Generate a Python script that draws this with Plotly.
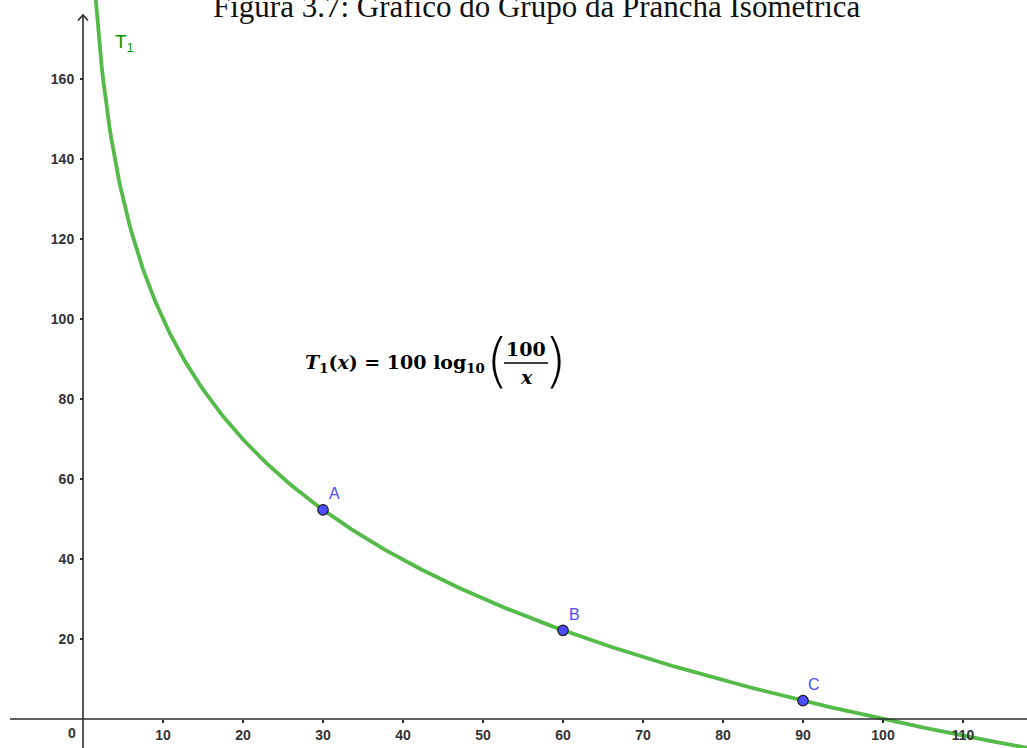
import numpy as np
import plotly.graph_objects as go

# ---- data ----
title_text = "Figura 3.7: Gráfico do Grupo da Prancha Isométrica"
x_ticks = [10, 20, 30, 40, 50, 60, 70, 80, 90, 100, 110]
y_ticks = [20, 40, 60, 80, 100, 120, 140, 160]
point_names = ["A", "B", "C"]
point_x = [30, 60, 90]
point_y = [52.29, 22.18, 4.58]
curve_label = "T<sub>1</sub>"

# function shown in the chart: T1(x) = 100 log10(100/x)
curve_x = np.linspace(1.55, 118.5, 600)
curve_y = 100 * np.log10(100 / curve_x)

W, H = 1027, 748
X0_PX, Y0_PX = 83, 719          # pixel position of origin
PX_PER_X, PX_PER_Y = 8.0, 4.0
LEFT = 10
x_range = [(LEFT - X0_PX) / PX_PER_X, (W - X0_PX) / PX_PER_X]
y_range = [(Y0_PX - H) / PX_PER_Y, Y0_PX / PX_PER_Y]

def dx(px):
    return (px - X0_PX) / PX_PER_X

def dy(py):
    return (Y0_PX - py) / PX_PER_Y

GREEN = "rgb(84,186,72)"
LABEL_GREEN = "rgb(0,153,0)"
BLUE = "rgb(77,77,255)"
AXIS = "#2b2b2b"
TICKFONT = dict(family="Liberation Sans, Arial, sans-serif", size=14, color="#333333")

fig = go.Figure()

fig.add_trace(go.Scatter(x=curve_x, y=curve_y, mode="lines",
                         line=dict(color=GREEN, width=3.8), hoverinfo="skip",
                         showlegend=False))
fig.add_trace(go.Scatter(x=point_x, y=point_y, mode="markers",
                         marker=dict(color=BLUE, size=10.5,
                                     line=dict(color="#1a1a1a", width=1.2)),
                         showlegend=False))

shapes = [
    dict(type="line", xref="x", yref="y", x0=x_range[0], x1=x_range[1], y0=0, y1=0,
         line=dict(color=AXIS, width=1.6)),
    dict(type="line", xref="x", yref="y", x0=0, x1=0, y0=y_range[0], y1=dy(15),
         line=dict(color=AXIS, width=1.6)),
    dict(type="path", xref="x", yref="y",
         path=f"M {dx(78)},{dy(20.5)} L 0,{dy(15)} L {dx(88)},{dy(20.5)}",
         line=dict(color=AXIS, width=1.6)),
]

annotations = []
# title (cut off at top of page)
annotations.append(dict(xref="paper", yref="paper", x=537 / W, y=1, xanchor="center",
                        yanchor="bottom", yshift=-26, showarrow=False, text=title_text,
                        font=dict(family="Liberation Serif, Times New Roman, serif",
                                  size=31, color="#111111")))
# origin label
annotations.append(dict(x=dx(72), y=dy(733), xref="x", yref="y", text="<b>0</b>",
                        showarrow=False, font=TICKFONT))
# curve label
annotations.append(dict(x=dx(124), y=dy(43), xref="x", yref="y", text=curve_label,
                        showarrow=False,
                        font=dict(family="Liberation Sans, Arial, sans-serif", size=19,
                                  color=LABEL_GREEN)))
# point labels
for name, px_, py_ in zip(point_names, point_x, point_y):
    annotations.append(dict(x=px_, y=py_, xref="x", yref="y", text=name, showarrow=False,
                            xshift=11, yshift=16,
                            font=dict(family="Liberation Sans, Arial, sans-serif",
                                      size=16, color=BLUE)))

# formula (built from text pieces)
MATH = dict(family="DejaVu Serif, serif", size=19, color="#000000")
PAREN = dict(family="DejaVu Sans, sans-serif", size=58, color="#000000", weight=200)
annotations.append(dict(x=dx(487), y=dy(363), xref="x", yref="y", xanchor="right",
                        showarrow=False,
                        text="<b><i>T</i><sub>1</sub>(<i>x</i>) = 100 log<sub>10</sub></b>",
                        font=MATH))
annotations.append(dict(x=dx(497), y=dy(361), xref="x", yref="y", showarrow=False,
                        text="(", font=PAREN))
annotations.append(dict(x=dx(526), y=dy(349), xref="x", yref="y", showarrow=False,
                        text="<b>100</b>", font=MATH))
annotations.append(dict(x=dx(526), y=dy(377), xref="x", yref="y", showarrow=False,
                        text="<b><i>x</i></b>", font=MATH))
annotations.append(dict(x=dx(555), y=dy(361), xref="x", yref="y", showarrow=False,
                        text=")", font=PAREN))
shapes.append(dict(type="line", xref="x", yref="y", x0=dx(504), x1=dx(548),
                   y0=dy(363), y1=dy(363), line=dict(color="#000000", width=1.6)))

fig.update_layout(
    width=W, height=H,
    margin=dict(l=0, r=0, t=0, b=0),
    paper_bgcolor="white", plot_bgcolor="white",
    showlegend=False,
    shapes=shapes, annotations=annotations,
    xaxis=dict(domain=[LEFT / W, 1], range=x_range, showgrid=False, zeroline=False,
               showline=False, tickvals=x_ticks, ticktext=[f"<b>{v}</b>" for v in x_ticks],
               ticks="outside", ticklen=3, tickwidth=1.5, tickcolor=AXIS,
               tickfont=TICKFONT, anchor="free", position=(H - Y0_PX) / H,
               fixedrange=True),
    yaxis=dict(domain=[0, 1], range=y_range, showgrid=False, zeroline=False,
               showline=False, tickvals=y_ticks, ticktext=[f"<b>{v}</b>" for v in y_ticks],
               ticks="outside", ticklen=3, tickwidth=1.5, tickcolor=AXIS,
               tickfont=TICKFONT, anchor="free", ticklabelstandoff=3,
               position=X0_PX / W,
               fixedrange=True),
)

fig.write_html("out.html", config={"displayModeBar": False},
               post_script="document.body.style.margin='0';document.body.style.overflow='hidden';")
